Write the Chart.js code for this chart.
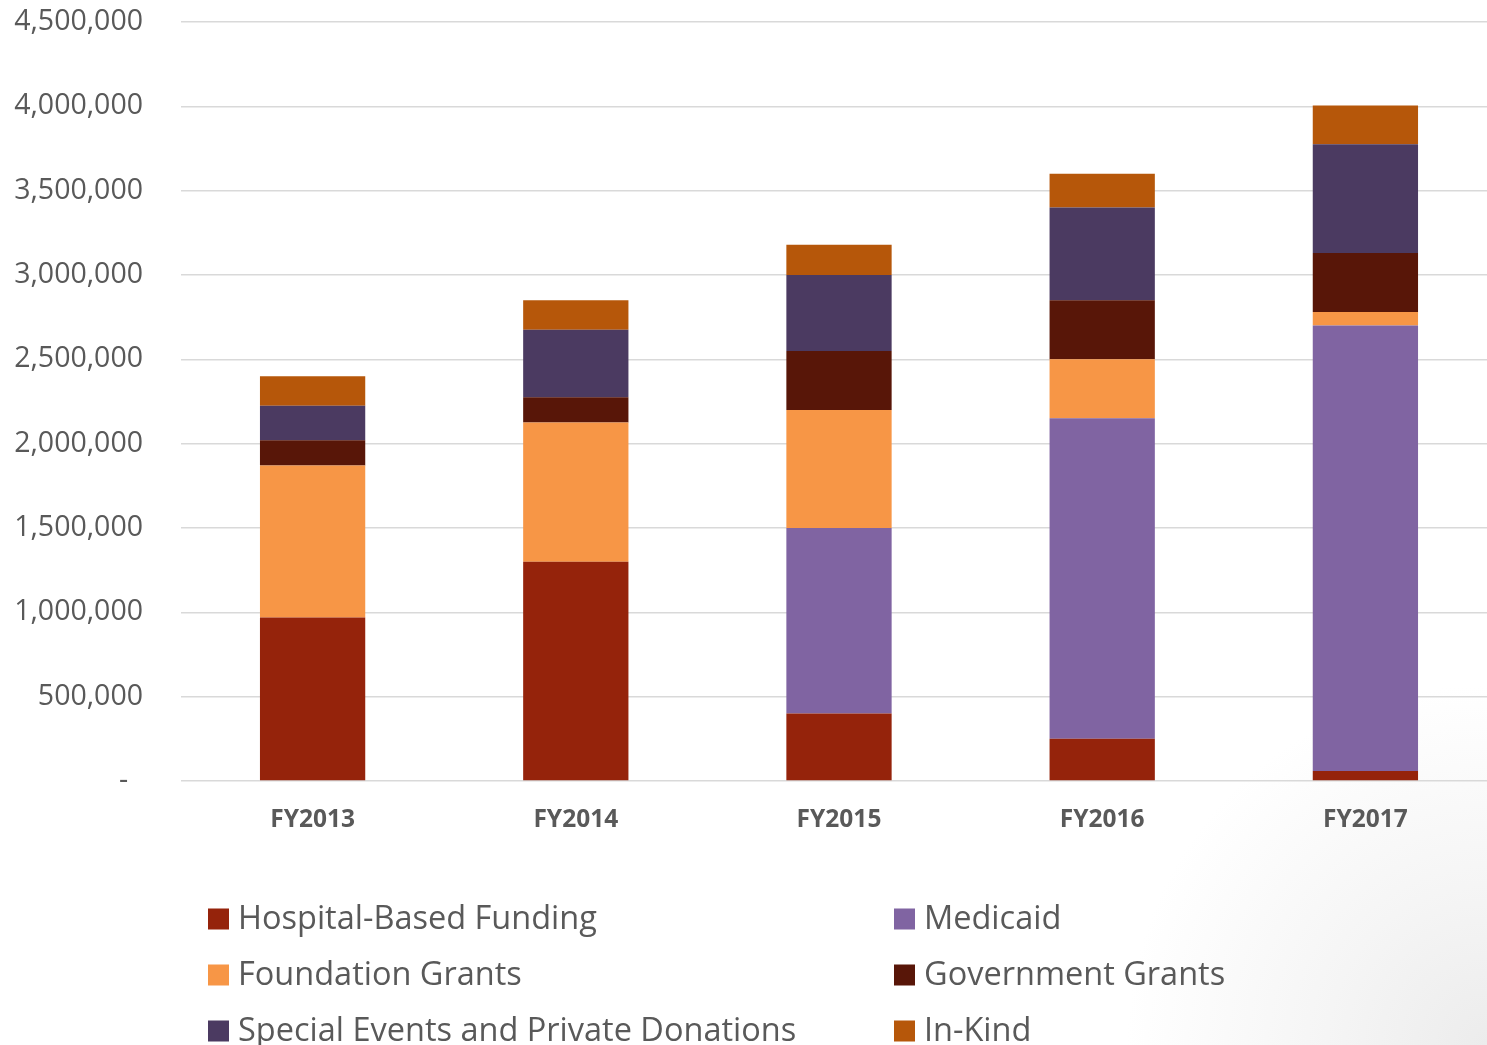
<!DOCTYPE html>
<html>
<head>
<meta charset="utf-8">
<script src="https://cdn.jsdelivr.net/npm/chart.js@4/dist/chart.umd.min.js"></script>
<style>
    html, body {
        margin: 0;
        padding: 0;
        overflow: hidden;
        width: 1487px;
        height: 1045px;
        background: radial-gradient(circle at 100% 100%, #ececec 0px, #f5f5f5 160px, #ffffff 360px);
    }
    #fundingChart {
        position: absolute;
        left: 0;
        top: 0;
    }
</style>
</head>
<body>
<canvas id="fundingChart" width="1497" height="1045"></canvas>
<script>
// Fiscal years on the x axis
let years = ['FY2013', 'FY2014', 'FY2015', 'FY2016', 'FY2017'];

// Funding per source, in dollars, stacked bottom to top
let hospitalFunding = [970000, 1300000, 400000, 250000, 60000];
let medicaid = [0, 0, 1100000, 1900000, 2640000];
let foundationGrants = [900000, 825000, 700000, 350000, 80000];
let governmentGrants = [150000, 150000, 350000, 350000, 350000];
let specialEvents = [205000, 400000, 450000, 550000, 645000];
let inKind = [175000, 175000, 180000, 200000, 230000];

// Y axis tick range
let yMax = 4500000;
let yStep = 500000;

let textGray = '#595959';

function makeSet(label, data, color) {
    return {
        label: label,
        data: data,
        backgroundColor: color,
        borderWidth: 0,
        barPercentage: 0.4,
        categoryPercentage: 1.0
    };
}

// Two column legend under the plot, same order as the datasets (row by row)
let twoColumnLegend = {
    id: 'twoColumnLegend',
    afterDraw(chart) {
        let ctx = chart.ctx;
        let columns = [208, 894];
        let firstRow = chart.chartArea.bottom + 138;
        let rowGap = 56;
        let box = 21;
        ctx.save();
        ctx.font = '32.5px "Open Sans"';
        ctx.textBaseline = 'middle';
        ctx.textAlign = 'left';
        chart.data.datasets.forEach((ds, i) => {
            let x = columns[i % 2];
            let y = firstRow + Math.floor(i / 2) * rowGap;
            ctx.fillStyle = ds.backgroundColor;
            ctx.fillRect(x, y - box / 2, box, box);
            ctx.fillStyle = textGray;
            ctx.fillText(ds.label, x + box + 9, y + 1);
        });
        ctx.restore();
    }
};

let ctx = document.getElementById('fundingChart').getContext('2d');
let chart = new Chart(ctx, {
    type: 'bar',
    data: {
        labels: years,
        datasets: [
            makeSet('Hospital-Based Funding', hospitalFunding, '#95230b'),
            makeSet('Medicaid', medicaid, '#8064a2'),
            makeSet('Foundation Grants', foundationGrants, '#f79646'),
            makeSet('Government Grants', governmentGrants, '#581608'),
            makeSet('Special Events and Private Donations', specialEvents, '#4b3a61'),
            makeSet('In-Kind', inKind, '#b6570a')
        ]
    },
    options: {
        responsive: false,
        animation: false,
        devicePixelRatio: 1,
        layout: {
            padding: { top: 22, bottom: 204, left: 0, right: 0 }
        },
        plugins: {
            legend: { display: false },
            tooltip: { enabled: false }
        },
        scales: {
            x: {
                stacked: true,
                grid: { display: false },
                border: { display: false },
                ticks: {
                    color: textGray,
                    padding: 16,
                    font: { family: '"Open Sans"', size: 24.5, weight: 'bold' }
                },
                afterFit(scale) {
                    scale.height = 60;
                }
            },
            y: {
                stacked: true,
                min: 0,
                max: yMax,
                border: { display: false },
                grid: {
                    color: '#d9d9d9',
                    lineWidth: 1.5,
                    drawTicks: false
                },
                ticks: {
                    stepSize: yStep,
                    color: textGray,
                    padding: 38,
                    font: { family: '"Open Sans"', size: 28.5 },
                    // zero shows as a dash, like accounting format
                    callback: value => value === 0 ? '-  ' : value.toLocaleString('en-US')
                },
                afterFit(scale) {
                    scale.width = 181;
                    // top label may stick out, the layout padding already leaves room
                    scale.paddingTop = 0;
                    scale.paddingBottom = 0;
                }
            }
        }
    },
    plugins: [twoColumnLegend]
});
</script>
</body>
</html>
